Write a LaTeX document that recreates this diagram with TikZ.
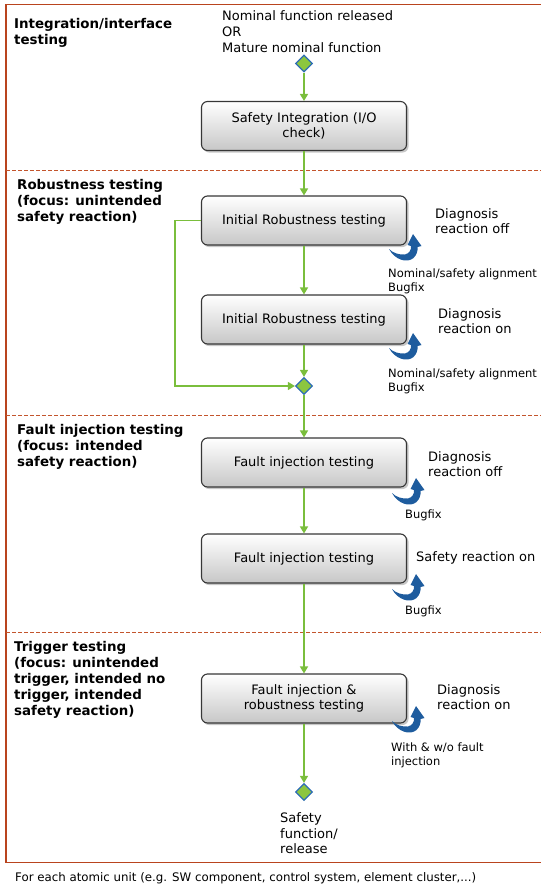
\documentclass[tikz,border=0pt]{standalone}
\usepackage{fontspec}
\setmainfont{DejaVu Sans}
\usetikzlibrary{arrows.meta,shapes.geometric}

\definecolor{flowgreen}{RGB}{122,190,60}
\definecolor{diafill}{RGB}{140,198,63}
\definecolor{diaedge}{RGB}{46,110,180}
\definecolor{loopblue}{RGB}{30,92,158}
\definecolor{frame}{RGB}{185,68,30}
\definecolor{divider}{RGB}{195,85,45}
\definecolor{boxedge}{RGB}{55,55,55}

% multi-line text nodes are anchored at the baseline of their last line
\tikzset{
  stepbox/.style={draw=boxedge, line width=1.1pt, rounded corners=6pt,
    top color=white, bottom color=black!22,
    minimum width=205pt, minimum height=49pt, inner sep=2pt,
    align=center, font=\fontsize{13}{15}\selectfont},
  boxshadow/.style={fill=black, opacity=0.22, rounded corners=6pt},
  dia/.style={diamond, draw=diaedge, fill=diafill, line width=1.2pt,
    minimum width=17pt, minimum height=17pt, inner sep=0pt},
  flow/.style={draw=flowgreen, line width=1.4pt,
    -{Triangle[length=7pt,width=8pt]}},
  phase/.style={anchor=base west, inner sep=0pt, align=left,
    font=\fontsize{13.4}{16}\selectfont\bfseries},
  note/.style={anchor=base west, inner sep=0pt, align=left,
    font=\fontsize{13}{15}\selectfont},
  small/.style={anchor=base west, inner sep=0pt, align=left,
    font=\fontsize{11.5}{14}\selectfont},
  divline/.style={draw=divider, line width=0.9pt, dash pattern=on 4pt off 2pt},
  swoosh/.pic={
    \fill[loopblue] (-15,-12) .. controls (-9,-1) and (3,2.5) .. (9.5,-3)
      .. controls (12.5,-6) and (14,-10) .. (13.5,-14)
      -- (17.5,-15) -- (9,-27) -- (3.5,-16) -- (7,-15)
      .. controls (7.5,-11) and (5,-7.5) .. (1,-6.5)
      .. controls (-5,-6) and (-11,-8) .. (-15,-12) -- cycle;
  }
}

\begin{document}
\begin{tikzpicture}[x=1pt, y=-1pt]
\useasboundingbox (0,0) rectangle (541,887);

% outer frame and phase dividers
\draw[frame, line width=1.5pt] (6,4.5) rectangle (548,862.5);
\draw[divline] (6,170) -- (541,170);
\draw[divline] (6,415) -- (541,415);
\draw[divline] (6,632) -- (541,632);

% phase titles
\node[phase] (t1) at (14,44) {Integration/interface\\testing};
\node[phase] (t2) at (17,221) {Robustness testing\\(focus: unintended\\safety reaction)};
\node[phase] (t3) at (17,466.5) {Fault injection testing\\(focus: intended\\safety reaction)};
\node[phase] (t4) at (14,715) {Trigger testing\\(focus: unintended\\trigger, intended no\\trigger, intended\\safety reaction)};

% start condition
\node[note, font=\fontsize{13}{16}\selectfont] (start) at (222,52.5)
  {Nominal function released\\OR\\Mature nominal function};

% shadows under the steps
\foreach \cy in {126,220.5,319.5,462.5,558.5,698.5}
  \fill[boxshadow] (203,\cy-23) rectangle (408.5,\cy+26.5);

% flow nodes
\node[dia] (d1) at (304,63.5) {};
\node[stepbox] (b1) at (304,126) {Safety Integration (I/O\\check)};
\node[stepbox] (b2) at (304,220.5) {Initial Robustness testing};
\node[stepbox] (b3) at (304,319.5) {Initial Robustness testing};
\node[dia] (d2) at (304,386) {};
\node[stepbox] (b4) at (304,462.5) {Fault injection testing};
\node[stepbox] (b5) at (304,558.5) {Fault injection testing};
\node[stepbox] (b6) at (304,698.5) {Fault injection \&\\robustness testing};
\node[dia] (d3) at (304,792) {};

% connectors
\coordinate (lp) at (175,386);
\draw[flow] (d1.south) -- (b1.north);
\draw[flow] (b1.south) -- (b2.north);
\draw[flow] (b2.south) -- (b3.north);
\draw[flow] (b3.south) -- (d2.north);
\draw[flow] (b2.west) -| (lp) -- (d2.west);
\draw[flow] (d2.south) -- (b4.north);
\draw[flow] (b4.south) -- (b5.north);
\draw[flow] (b5.south) -- (b6.north);
\draw[flow] (b6.south) -- (d3.north);

% iteration loops
\pic at (404,261) {swoosh};
\pic at (404,360) {swoosh};
\pic at (407,505) {swoosh};
\pic at (407,601) {swoosh};
\pic at (407,733) {swoosh};

% conditions beside the steps
\node[note] (c2) at (435,233.5) {Diagnosis\\reaction off};
\node[note] (c3) at (438,333.5) {Diagnosis\\reaction on};
\node[note] (c4) at (428,476) {Diagnosis\\reaction off};
\node[note] (c5) at (416,561.5) {Safety reaction on};
\node[note] (c6) at (437,709.5) {Diagnosis\\reaction on};

% loop labels
\node[small] (l2) at (388,291) {Nominal/safety alignment\\Bugfix};
\node[small] (l3) at (388,391) {Nominal/safety alignment\\Bugfix};
\node[small] (l4) at (405,518) {Bugfix};
\node[small] (l5) at (405,614) {Bugfix};
\node[small] (l6) at (391,765) {With \& w/o fault\\injection};

% end condition
\node[note, font=\fontsize{13}{15.5}\selectfont] (end) at (280,853.5)
  {Safety\\function/\\release};

% footnote
\node[small, font=\fontsize{11.8}{14}\selectfont] (foot) at (15,881)
  {For each atomic unit (e.g. SW component, control system, element cluster,...)};
\end{tikzpicture}
\end{document}
